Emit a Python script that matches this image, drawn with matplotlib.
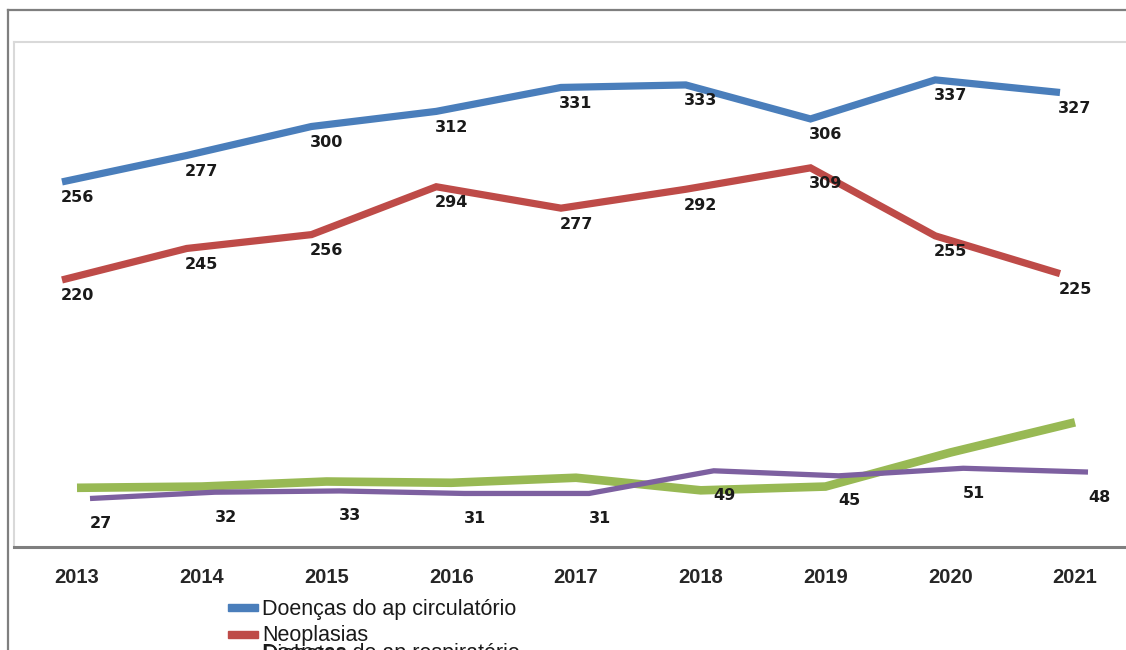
import matplotlib.pyplot as plt
import matplotlib.transforms as mtransforms
from matplotlib.lines import Line2D
from matplotlib.patches import Rectangle

anos = ['2013', '2014', '2015', '2016', '2017', '2018', '2019', '2020', '2021']
circulatorio = [256, 277, 300, 312, 331, 333, 306, 337, 327]
neoplasias = [220, 245, 256, 294, 277, 292, 309, 255, 225]
respiratorio = [47, 48, 52, 51, 55, 45, 48, 75, 99]
diabetes = [27, 32, 33, 31, 31, 49, 45, 51, 48]

nomes = ['Doenças do ap circulatório', 'Neoplasias',
         'Doenças do ap respiratório', 'Diabetes']

W, H = 1126, 650
fig = plt.figure(figsize=(W / 100, H / 100), dpi=100)

# area do grafico em pixels
esq, topo, base, dir_ = 14, 42, 547, 1140
ax = fig.add_axes([esq / W, (H - base) / H, (dir_ - esq) / W, (base - topo) / H])

passo = 124.75
x0 = 77
ax.set_xlim(-(x0 - esq) / passo, 8 + (dir_ - 1075) / passo)
ax.set_ylim(0, 401)


def desloc(dx, dy):
    # deslocamento em pixels (a 100 dpi)
    return ax.transData + mtransforms.ScaledTranslation(dx / 100, dy / 100, fig.dpi_scale_trans)


x = list(range(len(anos)))
series = [
    (circulatorio, '#4A7EBB', 5.2, (-15, 42.7), (15, -16)),
    (neoplasias, '#BE4B48', 5.2, (-15, -10), (15, -16)),
    (respiratorio, '#98B954', 6.2, (0, 0), None),
    (diabetes, '#7D60A0', 3.8, (13, 14.5), (11, -25)),
]

for valores, cor, lw, (dx, dy), rot in series:
    tr = desloc(dx, dy)
    ax.plot(x, valores, color=cor, lw=lw, transform=tr,
            solid_capstyle='butt', solid_joinstyle='miter', clip_on=False)
    if rot is None:
        continue
    for i, v in zip(x, valores):
        ax.annotate(str(v), (i, v), xycoords=tr,
                    xytext=(rot[0] * 0.72, rot[1] * 0.72), textcoords='offset points',
                    ha='center', va='center', fontsize=11.5, fontweight='bold',
                    color='#1a1a1a', zorder=5)

ax.set_xticks(x)
ax.set_xticklabels(anos, fontsize=14.5, fontweight='bold', color='#262626',
                   family='Liberation Sans')
ax.tick_params(axis='x', length=0, pad=15)
ax.set_yticks([])

for lado in ['top', 'left']:
    ax.spines[lado].set_color('#d9d9d9')
    ax.spines[lado].set_linewidth(1.5)
ax.spines['right'].set_visible(False)
ax.spines['bottom'].set_color('#7f7f7f')
ax.spines['bottom'].set_linewidth(2.2)

# moldura externa
fig.add_artist(Line2D([8 / W, 8 / W], [0, 1 - 10 / H], transform=fig.transFigure,
                      color='#7f7f7f', lw=1.6))
fig.add_artist(Line2D([8 / W, 1], [1 - 10 / H, 1 - 10 / H], transform=fig.transFigure,
                      color='#7f7f7f', lw=1.6))

# legenda (as duas ultimas entradas ficam sobrepostas e cortadas)
cores = [s[1] for s in series]
leg_y = [609, 636, 654, 654]
for nome, cor, yy in zip(nomes, cores, leg_y):
    hy = yy - 2 if yy < 640 else yy + 14
    fig.add_artist(Rectangle((228 / W, 1 - (hy + 3.5) / H), 30 / W, 7 / H,
                             transform=fig.transFigure, color=cor))
    fig.text(262 / W, 1 - yy / H, nome, fontsize=15.5, color='#1a1a1a',
             family='Liberation Sans', va='center', ha='left')

fig.savefig('out.png', dpi=100)
